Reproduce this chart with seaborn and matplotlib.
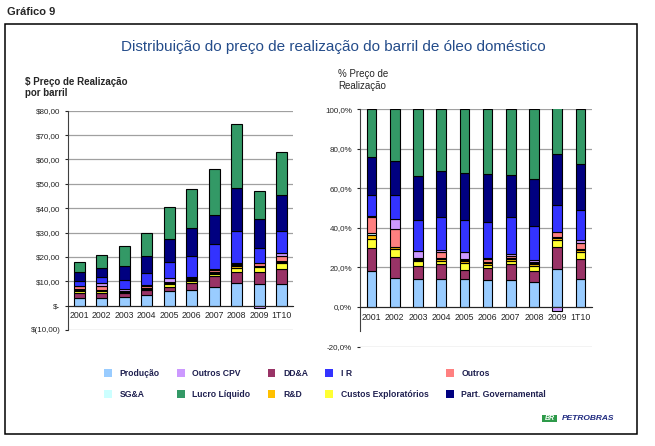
import numpy as np
import pandas as pd
import seaborn as sns
import matplotlib.pyplot as plt
from matplotlib.patches import Rectangle

# data
years = ['2001', '2002', '2003', '2004', '2005', '2006', '2007', '2008', '2009', '1T10']
totals = [17.9, 20.7, 24.3, 29.7, 40.4, 47.7, 55.9, 74.4, 46.3, 62.9]  # $ per barrel (net)

# share of realization price (%), stack order bottom -> top
producao = [18.1, 14.7, 14.4, 14.4, 14.4, 13.5, 13.5, 12.4, 19.0, 14.4]
dda = [11.8, 10.6, 6.2, 7.2, 4.5, 6.3, 8.1, 5.9, 11.1, 9.8]
custos_expl = [4.6, 3.9, 2.7, 1.8, 3.2, 1.5, 1.8, 2.3, 4.0, 3.5]
rd = [1.8, 0.9, 0.6, 0.8, 1.0, 0.8, 0.8, 1.0, 0.8, 0.9]
sga = [0.9, 0.3, 0.5, 0.5, 0.6, 0.8, 0.6, 0.8, 0.5, 0.6]
outros = [8.1, 8.8, 0.3, 3.0, 0.4, 1.2, 1.2, 0.6, 2.6, 3.1]
outros_cpv = [0.5, 5.1, 3.5, 1.0, 3.8, 0.8, 0.8, 0.6, -2.0, 1.8]
ir = [10.8, 12.3, 15.6, 16.9, 16.1, 18.2, 18.8, 17.5, 13.5, 14.9]
part_gov = [19.4, 17.2, 22.4, 23.2, 23.6, 24.1, 21.0, 23.6, 25.7, 23.1]
lucro = [24.0, 26.2, 33.8, 31.2, 32.4, 32.8, 33.4, 35.3, 24.8, 27.9]

series = [
    ('Produção', producao, '#99CCFF'),
    ('DD&A', dda, '#993366'),
    ('Custos Exploratórios', custos_expl, '#FFFF33'),
    ('R&D', rd, '#FFC000'),
    ('SG&A', sga, '#CCFFFF'),
    ('Outros', outros, '#FF8080'),
    ('Outros CPV', outros_cpv, '#CC99FF'),
    ('I R', ir, '#3333FF'),
    ('Part. Governamental', part_gov, '#000080'),
    ('Lucro Líquido', lucro, '#339966'),
]
legend_order = ['Produção', 'SG&A', 'Outros CPV', 'Lucro Líquido', 'DD&A', 'R&D',
                'I R', 'Custos Exploratórios', 'Outros', 'Part. Governamental']

sns.set_style('white')
plt.rcParams['font.family'] = ['Liberation Sans', 'DejaVu Sans']

W, H = 655, 446
fig = plt.figure(figsize=(W / 100, H / 100), dpi=100)


def box(l, t, r, b):
    return [l / W, 1 - b / H, (r - l) / W, (b - t) / H]


ax1 = fig.add_axes(box(68, 110.7, 293, 330))
ax2 = fig.add_axes(box(360, 109.3, 592, 346.5))

tot = np.array(totals)


def stacked(ax, scale, width):
    pos = np.zeros(len(years))
    neg = np.zeros(len(years))
    handles = {}
    for name, share, color in series:
        v = np.array(share) * scale
        bottom = np.where(v >= 0, pos, neg)
        df = pd.DataFrame({'ano': years, 'valor': v})
        sns.barplot(data=df, x='ano', y='valor', bottom=bottom, color=color,
                    saturation=1, width=width, edgecolor='black', linewidth=0.8,
                    errorbar=None, ax=ax)
        handles[name] = Rectangle((0, 0), 1, 1, facecolor=color, edgecolor='none')
        pos = pos + np.where(v >= 0, v, 0)
        neg = neg + np.where(v < 0, v, 0)
    return handles


handles = stacked(ax1, tot / 100, 0.47)
stacked(ax2, np.ones(len(years)), 0.42)

for ax in (ax1, ax2):
    ax.set_xlim(-0.5, len(years) - 0.5)
    ax.set_xlabel('')
    ax.set_ylabel('')
    ax.set_axisbelow(True)
    ax.yaxis.grid(True, color='#A0A0A0', linewidth=0.9)
    ax.spines['top'].set_visible(False)
    ax.spines['right'].set_visible(False)
    ax.spines['bottom'].set_position(('data', 0))
    ax.spines['bottom'].set_linewidth(0.8)
    ax.spines['left'].set_linewidth(0.8)
    ax.spines['left'].set_color('#404040')
    ax.set_xticks(np.arange(-0.5, len(years)), minor=True)
    ax.tick_params(axis='x', which='major', length=0, labelsize=6.3, pad=4)
    ax.tick_params(axis='x', which='minor', length=3, width=0.8, direction='out')
    ax.tick_params(axis='y', length=2.5, width=0.8, labelsize=5.8, pad=3, left=True)

ax1.set_ylim(-10, 80)
ax1.set_yticks(np.arange(-10, 81, 10))
ax1.set_yticklabels(['$(10,00)', '$-'] + ['$%d0,00' % i for i in range(1, 9)])

ax2.set_ylim(-20, 100)
ax2.set_yticks(np.arange(-20, 101, 20))
ax2.set_yticklabels(['%d,0%%' % t for t in range(-20, 101, 20)])
ax2.spines['left'].set_bounds(-12, 100)

# frame and texts
fig.patches.append(Rectangle((5 / W, 1 - 434 / H), 632 / W, 410 / H, transform=fig.transFigure,
                             fill=False, edgecolor='black', linewidth=1.1))
fig.text(7 / W, 1 - 12 / H, 'Gráfico 9', fontsize=8, fontweight='bold', va='center')
fig.text(333 / W, 1 - 47 / H, 'Distribuição do preço de realização do barril de óleo doméstico',
         fontsize=11, color='#244C8A', ha='center', va='center')
fig.text(25 / W, 1 - 87.5 / H, '$ Preço de Realização\npor barril', fontsize=7,
         fontweight='bold', va='center', linespacing=1.15)
fig.text(338 / W, 1 - 80 / H, '% Preço de\nRealização', fontsize=7, va='center',
         linespacing=1.15)

fig.legend([handles[n] for n in legend_order], legend_order, loc='center', ncol=5,
           bbox_to_anchor=(325 / W, 1 - 384 / H), frameon=False,
           prop={'weight': 'bold', 'size': 6.2}, labelcolor='#1F2050',
           handlelength=0.9, handleheight=1.1, columnspacing=2.0, labelspacing=1.4,
           handletextpad=0.9)

# logo
fig.patches.append(Rectangle((542 / W, 1 - 422 / H), 15 / W, 7 / H, transform=fig.transFigure,
                             facecolor='#2E9A4A', edgecolor='none'))
fig.text(549.5 / W, 1 - 418.5 / H, 'BR', fontsize=5, color='white', fontweight='bold',
         ha='center', va='center', style='italic')
fig.text(562 / W, 1 - 418.5 / H, 'PETROBRAS', fontsize=6, color='#1F2A80',
         fontweight='bold', style='italic', va='center')

fig.savefig('out.png', dpi=100)
